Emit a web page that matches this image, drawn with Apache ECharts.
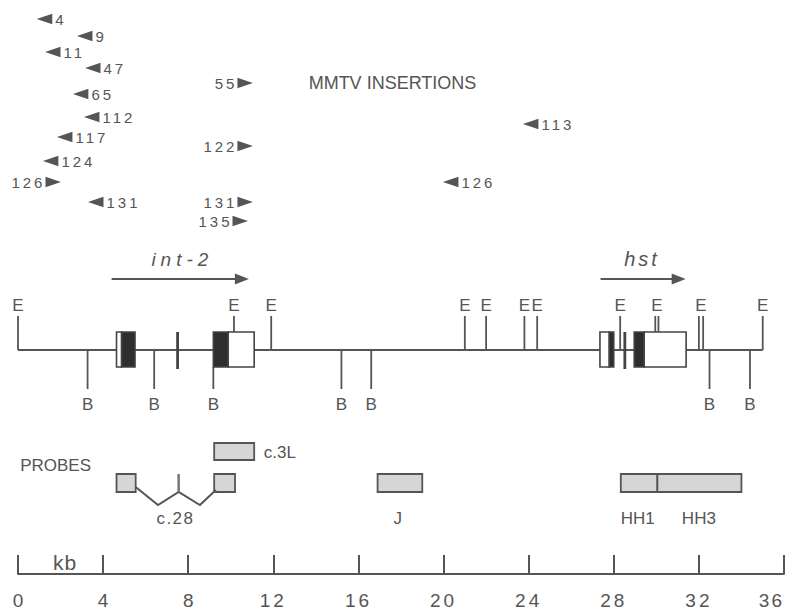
<!DOCTYPE html>
<html><head><meta charset="utf-8">
<script src="https://cdn.jsdelivr.net/npm/echarts@6/dist/echarts.min.js"></script>
<style>html,body{margin:0;background:#fff}#c{width:792px;height:612px}</style>
</head><body><div id="c"></div>
<script>
// ---- data (kb positions) ----
const kbTicks = [0, 4, 8, 12, 16, 20, 24, 28, 32, 36];

const insIds  = ['4', '9', '11', '47', '65', '112', '117', '124', '126', '131', '55', '122', '131', '135', '113', '126'];
const insKb   = [0.88, 2.77, 1.27, 3.15, 2.58, 3.10, 1.83, 1.17, 2.02, 3.29, 11.04, 11.04, 11.04, 10.81, 23.73, 19.97];
const insDir  = ['L', 'L', 'L', 'L', 'L', 'L', 'L', 'L', 'R', 'L', 'R', 'R', 'R', 'R', 'L', 'L'];
const insRow  = [19, 36, 52, 68, 94, 117, 137, 161, 182, 202, 83, 146, 202, 221, 124, 182];

const mapStart = 0, mapEnd = 35;
const eSiteGroups = [[0], [10.15], [11.9], [21.0], [22.0], [23.8], [24.4], [28.3], [29.95, 30.1], [32.0, 32.2], [35.0]];
const bSites = [3.27, 6.4, 9.18, 15.2, 16.6, 32.5, 34.4];

const exonStart = [4.63, 4.87, 7.5, 9.18, 9.88, 27.35, 27.79, 28.52, 28.96, 29.43];
const exonEnd   = [4.87, 5.50, 7.5, 9.88, 11.10, 27.79, 28.00, 28.52, 29.43, 31.40];
const exonFill  = ['white', 'black', 'bar', 'black', 'white', 'white', 'black', 'bar', 'black', 'white'];

const geneNames = ['int-2', 'hst'];
const geneStart = [4.4, 27.38];
const geneEnd   = [10.85, 31.38];

const probeNames = ['c.3L', 'c.28', 'c.28', 'J', 'HH1', 'HH3'];
const probeStart = [9.22, 4.63, 9.22, 16.9, 28.33, 30.05];
const probeEnd   = [11.1, 5.53, 10.2, 19.0, 30.05, 34.0];
const probeRow   = [0, 1, 1, 1, 1, 1];
const c28Bar = 7.55;
const c28Path = [[5.53, 487], [6.58, 505], [7.55, 492], [8.55, 505], [9.3, 490]];

// ---- layout (pixel rows on the y scale) ----
const Y = { gene: 279, geneLabel: 259, eTop: 316, eLabel: 305, line: 350, boxTop: 332, boxBot: 367,
            bBot: 389, bLabel: 404, probeRows: [[443, 460], [474, 492]], probeLabel: 518 };
const C = '#555', TXT = '#555', FONT = "'Liberation Sans', Arial, sans-serif";

function txt(x, y, s, size, align, extra) {
  return { type: 'text', style: { x: x, y: y, text: s, fill: TXT,
    font: (extra ? extra + ' ' : '') + size + 'px ' + FONT, align: align || 'center', verticalAlign: 'middle',
    textAlign: align || 'center', textVerticalAlign: 'middle' } };
}
function inBox(k) {
  for (let i = 0; i < exonStart.length; i++) {
    if (exonFill[i] !== 'bar' && k >= exonStart[i] - 0.02 && k <= exonEnd[i] + 0.02) return true;
  }
  return false;
}

const chart = echarts.init(document.getElementById('c'), null, { renderer: 'svg' });
const series = [];

// insertions
series.push({
  type: 'custom', data: insKb.map((k, i) => [k, insRow[i]]),
  renderItem: function (params, api) {
    const i = params.dataIndex;
    const p = api.coord([api.value(0), api.value(1)]);
    const L = 15.5, H = 5.3;
    const s = insDir[i] === 'L' ? 1 : -1;
    return { type: 'group', children: [
      { type: 'polygon', shape: { points: [[p[0], p[1]], [p[0] + s * L, p[1] - H], [p[0] + s * L, p[1] + H]] }, style: { fill: C } },
      txt(p[0] + s * (L + 3) + (s < 0 ? 3 : 0), p[1], insIds[i], 15, s > 0 ? 'left' : 'right')
    ] };
  }
});

// title text
series.push({
  type: 'custom', data: [[17.6, 83]],
  renderItem: function (params, api) {
    const p = api.coord([api.value(0), api.value(1)]);
    return txt(p[0], p[1], 'MMTV INSERTIONS', 18, 'center');
  }
});

// gene arrows
series.push({
  type: 'custom', data: geneStart.map((s, i) => [s, geneEnd[i]]),
  renderItem: function (params, api) {
    const i = params.dataIndex;
    const a = api.coord([api.value(0), Y.gene]);
    const b = api.coord([api.value(1), Y.gene]);
    const mid = api.coord([(api.value(0) + api.value(1)) / 2 + (i === 1 ? -0.05 : 0.1), Y.geneLabel]);
    return { type: 'group', children: [
      { type: 'line', shape: { x1: a[0], y1: a[1], x2: b[0] - 10, y2: b[1] }, style: { stroke: C, lineWidth: 2 } },
      { type: 'polygon', shape: { points: [[b[0], b[1]], [b[0] - 14, b[1] - 5.5], [b[0] - 14, b[1] + 5.5]] }, style: { fill: C } },
      txt(mid[0], mid[1], geneNames[i], i === 0 ? 19 : 20, 'center', 'italic')
    ] };
  }
});

// restriction map line
series.push({
  type: 'custom', data: [[mapStart, mapEnd]],
  renderItem: function (params, api) {
    const a = api.coord([api.value(0), Y.line]);
    const b = api.coord([api.value(1), Y.line]);
    return { type: 'line', shape: { x1: a[0], y1: a[1], x2: b[0], y2: b[1] }, style: { stroke: C, lineWidth: 2 } };
  }
});

// E sites
series.push({
  type: 'custom', data: eSiteGroups.map((g, i) => [g[0], i]),
  renderItem: function (params, api) {
    const g = eSiteGroups[params.dataIndex];
    const children = [];
    let sx = 0;
    g.forEach(k => {
      const bottom = inBox(k) ? Y.boxTop : Y.line;
      const t = api.coord([k, Y.eTop]);
      const b = api.coord([k, bottom]);
      sx += t[0];
      children.push({ type: 'line', shape: { x1: t[0], y1: t[1], x2: b[0], y2: b[1] }, style: { stroke: C, lineWidth: 1.8 } });
    });
    const l = api.coord([0, Y.eLabel]);
    children.push(txt(sx / g.length, l[1], 'E', 17, 'center'));
    return { type: 'group', children: children };
  }
});

// B sites
series.push({
  type: 'custom', data: bSites.map(k => [k, 0]),
  renderItem: function (params, api) {
    const k = api.value(0);
    const top = inBox(k) ? Y.boxBot : Y.line;
    const t = api.coord([k, top]);
    const b = api.coord([k, Y.bBot]);
    const l = api.coord([k, Y.bLabel]);
    return { type: 'group', children: [
      { type: 'line', shape: { x1: t[0], y1: t[1], x2: b[0], y2: b[1] }, style: { stroke: C, lineWidth: 1.8 } },
      txt(l[0], l[1], 'B', 17, 'center')
    ] };
  }
});

// exons
series.push({
  type: 'custom', data: exonStart.map((s, i) => [s, exonEnd[i]]),
  renderItem: function (params, api) {
    const i = params.dataIndex;
    const a = api.coord([api.value(0), Y.boxTop]);
    const b = api.coord([api.value(1), Y.boxBot]);
    if (exonFill[i] === 'bar') {
      return { type: 'line', shape: { x1: a[0], y1: a[1], x2: a[0], y2: b[1] + 2 }, style: { stroke: '#444', lineWidth: 2.8 } };
    }
    return { type: 'rect', shape: { x: a[0], y: a[1], width: b[0] - a[0], height: b[1] - a[1] },
      style: { fill: exonFill[i] === 'black' ? '#2e2e2e' : '#fff', stroke: '#444', lineWidth: 1.6 } };
  }
});

// probes
series.push({
  type: 'custom', data: probeStart.map((s, i) => [s, probeEnd[i]]),
  renderItem: function (params, api) {
    const i = params.dataIndex;
    const r = Y.probeRows[probeRow[i]];
    const a = api.coord([api.value(0), r[0]]);
    const b = api.coord([api.value(1), r[1]]);
    return { type: 'rect', shape: { x: a[0], y: a[1], width: b[0] - a[0], height: b[1] - a[1] },
      style: { fill: '#d6d6d6', stroke: '#555', lineWidth: 1.8 } };
  }
});

// c.28 connector, probe labels
series.push({
  type: 'custom', data: [[0, 0]],
  renderItem: function (params, api) {
    const pts = c28Path.map(p => api.coord(p));
    const bt = api.coord([c28Bar, Y.probeRows[1][0]]);
    const bb = api.coord([c28Bar, Y.probeRows[1][1]]);
    const children = [
      { type: 'polyline', shape: { points: pts }, style: { stroke: C, lineWidth: 2, fill: null } },
      { type: 'line', shape: { x1: bt[0], y1: bt[1], x2: bb[0], y2: bb[1] }, style: { stroke: '#777', lineWidth: 2.5 } }
    ];
    const lab = (k, y, s, al, size) => { const p = api.coord([k, y]); children.push(txt(p[0], p[1], s, size || 17, al)); };
    lab(11.55, 452, probeNames[0], 'left');
    lab(7.4, Y.probeLabel, probeNames[1], 'center');
    lab(17.85, Y.probeLabel, probeNames[3], 'center');
    lab(28.33, Y.probeLabel, probeNames[4], 'left');
    lab(31.2, Y.probeLabel, probeNames[5], 'left');
    lab(0.1, 465, 'PROBES', 'left');
    lab(1.65, 562, 'kb', 'left', 21);
    return { type: 'group', children: children };
  }
});

chart.setOption({
  animation: false,
  grid: { left: 18, right: 8, top: 0, bottom: 38, outerBoundsMode: 'none', containLabel: false },
  xAxis: {
    type: 'value', position: 'bottom', min: kbTicks[0], max: kbTicks[kbTicks.length - 1], interval: 4,
    axisLine: { onZero: false, lineStyle: { color: '#555', width: 2 } },
    axisTick: { inside: true, length: 19, lineStyle: { color: '#555', width: 2 } },
    axisLabel: { margin: 17, fontSize: 19, color: '#555', fontFamily: 'Liberation Sans, Arial, sans-serif',
      hideOverlap: false, showMinLabel: true, showMaxLabel: true, alignMaxLabel: 'right',
      formatter: v => String(v) },
    splitLine: { show: false }
  },
  yAxis: { type: 'value', min: 0, max: 574, inverse: true, show: false },
  series: series
});

// typographic tracking of the original (wide-spaced digits and gene names)
function applyTracking() {
  document.querySelectorAll('#c text').forEach(t => {
    const s = (t.textContent || '').trim();
    let ls = null;
    if (/^\d{2,}$/.test(s)) ls = (s === '36') ? '2px' : '3px';
    else if (s === 'int-2') ls = '5px';
    else if (s === 'hst') ls = '3px';
    else if (s === 'c.28') ls = '1.5px';
    else if (s === 'kb') ls = '1px';
    if (ls) t.style.letterSpacing = ls;
  });
}
applyTracking();
chart.on('finished', applyTracking);
</script>
</body></html>
